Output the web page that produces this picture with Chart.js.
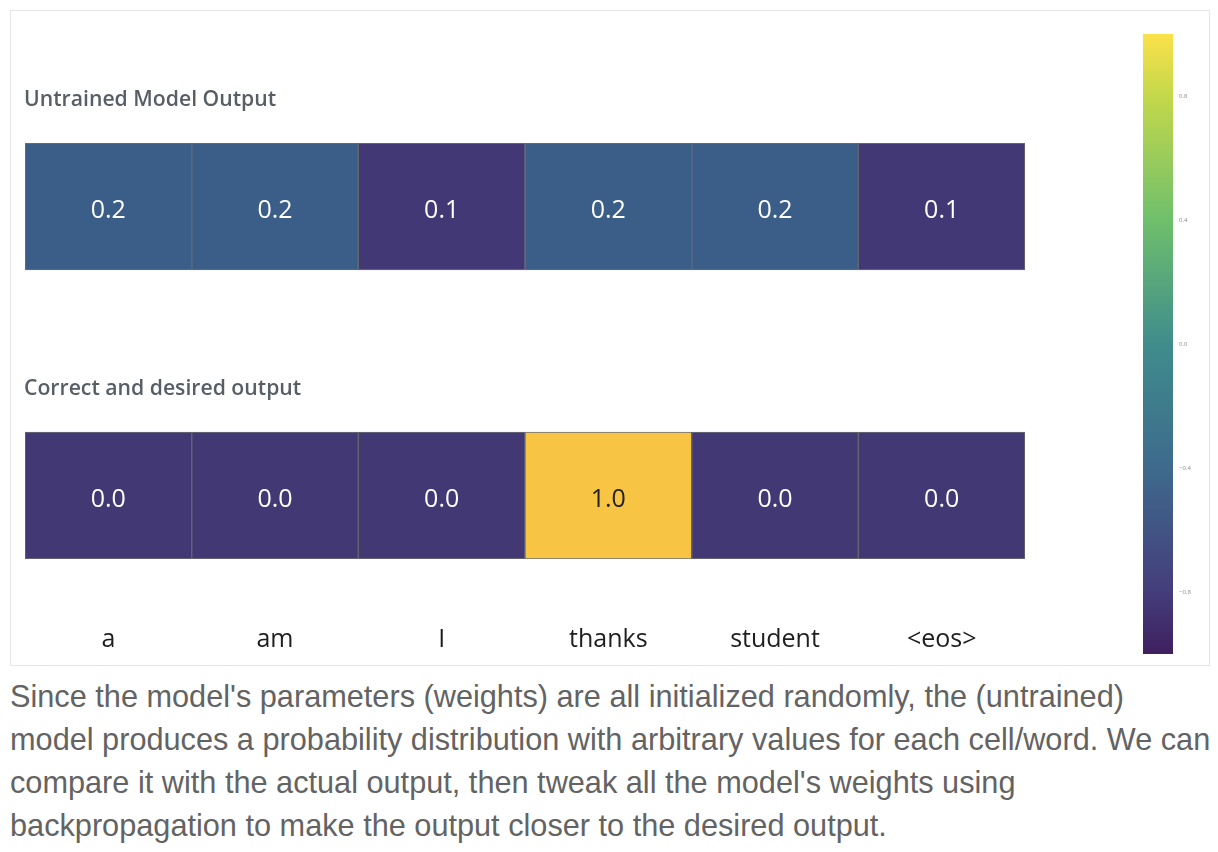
<!DOCTYPE html>
<html>
<head>
<meta charset="utf-8">
<script src="https://cdn.jsdelivr.net/npm/chart.js@4/dist/chart.umd.min.js"></script>
<style>
  body{ margin:0; background:#fff; width:1218px; height:852px; position:relative; overflow:hidden; }
  #frame{ position:absolute; left:10px; top:10px; width:1200px; height:656px; border:1px solid #e6e6e6; box-sizing:border-box; }
  #main{ position:absolute; left:10px; top:10px; }
  #cbar{ position:absolute; left:1130px; top:20px; }
  .title{ position:absolute; left:24px; font:600 21.2px "Open Sans", sans-serif; color:#585e66; line-height:28px; white-space:nowrap; }
  #para{ position:absolute; left:10px; top:675px; width:1208px; font:30.7px "Liberation Sans", Arial, sans-serif; color:#636363; line-height:43px; white-space:nowrap; }
</style>
</head>
<body>
<div id="frame"></div>
<canvas id="main" width="1130" height="655"></canvas>
<canvas id="cbar" width="75" height="650"></canvas>
<div class="title" style="top:84px">Untrained Model Output</div>
<div class="title" style="top:373px">Correct and desired output</div>
<div id="para">Since the model's parameters (weights) are all initialized randomly, the (untrained)<br>model produces a probability distribution with arbitrary values for each cell/word. We can<br>compare it with the actual output, then tweak all the model's weights using<br>backpropagation to make the output closer to the desired output.</div>
<script>
const words = ['a', 'am', 'I', 'thanks', 'student', '<eos>'];
const untrained = [0.2, 0.2, 0.1, 0.2, 0.2, 0.1];
const desired = [0.0, 0.0, 0.0, 1.0, 0.0, 0.0];
const colorbarTicks = [-0.8, -0.4, 0.0, 0.4, 0.8];

// colours as they appear in the cells
const cellStops = [[0, '#413874'], [0.1, '#433876'], [0.2, '#3b5e89'], [1, '#f7c443']];
// colour bar, bottom (-1) to top (1)
const barStops = [[-1, '#3f1f5e'], [-0.8, '#443d7b'], [-0.4, '#3e6a8d'], [0, '#3f8c8c'], [0.4, '#6fbf6c'], [0.8, '#c4d84a'], [1, '#fbe14a']];

function hex(c){ return [1,3,5].map(i => parseInt(c.substr(i,2),16)); }
function cellColor(v){
  for(let i=1;i<cellStops.length;i++){
    const [v0,c0] = cellStops[i-1], [v1,c1] = cellStops[i];
    if(v <= v1){
      const t = (v - v0) / (v1 - v0), a = hex(c0), b = hex(c1);
      return 'rgb(' + a.map((x,k) => Math.round(x + (b[k]-x)*t)).join(',') + ')';
    }
  }
  return cellStops[cellStops.length-1][1];
}

// row bands in y units: bottom row [0,1], top row [1+GAP, 2+GAP]
const GAP = 162/127;
const band = (lo) => words.map(() => [lo, lo+1]);

const cellLabels = {
  id: 'cellLabels',
  afterDatasetsDraw(chart){
    const ctx = chart.ctx;
    ctx.save();
    ctx.font = '25px "Open Sans", sans-serif';
    ctx.textAlign = 'center';
    ctx.textBaseline = 'middle';
    chart.data.datasets.forEach((ds, di) => {
      chart.getDatasetMeta(di).data.forEach((el, i) => {
        const v = ds.values[i];
        ctx.fillStyle = v > 0.5 ? '#222' : '#fff';
        ctx.fillText(v.toFixed(1), el.x, (el.y + el.base)/2 + 4);
      });
    });
    ctx.restore();
  }
};

new Chart(document.getElementById('main'), {
  type: 'bar',
  data: {
    labels: words,
    datasets: [
      { label: 'Untrained Model Output', values: untrained, data: band(1+GAP), backgroundColor: untrained.map(cellColor) },
      { label: 'Correct and desired output', values: desired, data: band(0), backgroundColor: desired.map(cellColor) }
    ]
  },
  options: {
    responsive: false,
    animation: false,
    layout: { padding: { left: 15, right: 115, top: 133, bottom: 0 } },
    datasets: { bar: { grouped: false, categoryPercentage: 1, barPercentage: 1, borderWidth: 1, borderColor: 'rgba(85,85,95,0.85)', borderSkipped: false } },
    plugins: { legend: { display: false }, tooltip: { enabled: false } },
    scales: {
      x: {
        grid: { display: false }, border: { display: false },
        ticks: { padding: 58, color: '#1e1e1e', font: { family: 'Open Sans', size: 25 } },
        afterFit(s){ s.height = 106; }
      },
      y: { display: false, min: 0, max: 2+GAP }
    }
  },
  plugins: [cellLabels]
});

new Chart(document.getElementById('cbar'), {
  type: 'bar',
  data: {
    labels: [''],
    datasets: [{
      data: [[-1, 1]],
      backgroundColor(ctx){
        const area = ctx.chart.chartArea;
        if(!area) return barStops[0][1];
        const g = ctx.chart.ctx.createLinearGradient(0, area.bottom, 0, area.top);
        barStops.forEach(([v, c]) => g.addColorStop((v+1)/2, c));
        return g;
      },
      categoryPercentage: 1, barPercentage: 1, borderWidth: 0
    }]
  },
  options: {
    responsive: false,
    animation: false,
    layout: { padding: { left: 13, right: 0, top: 14, bottom: 16 } },
    plugins: { legend: { display: false }, tooltip: { enabled: false } },
    scales: {
      x: { display: false },
      y: {
        position: 'right', min: -1, max: 1,
        grid: { display: false, drawTicks: false }, border: { display: false },
        afterBuildTicks(s){ s.ticks = colorbarTicks.map(v => ({ value: v })); },
        ticks: { padding: 6, color: '#888', font: { family: 'Open Sans', size: 6 },
          callback: v => (v < 0 ? '\u2212' : '') + Math.abs(v).toFixed(1) },
        afterFit(s){ s.width = 32; }
      }
    }
  }
});
</script>
</body>
</html>
